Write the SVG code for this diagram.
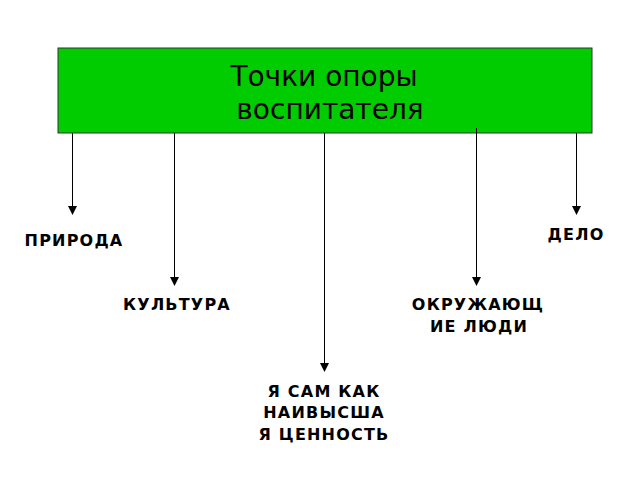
<svg xmlns="http://www.w3.org/2000/svg" width="640" height="480" viewBox="0 0 640 480">
<style>
.lbl{font-family:"DejaVu Sans",Verdana,sans-serif;font-weight:bold;font-size:16px;letter-spacing:1.2px;fill:#000;text-anchor:middle}
.ttl{font-family:"DejaVu Sans",Verdana,sans-serif;font-size:28px;fill:#000;text-anchor:middle}
.ln{stroke:#000;stroke-width:1;fill:none;marker-end:url(#ah)}
</style>
<defs>
<marker id="ah" markerWidth="9" markerHeight="9" refX="8" refY="4.5" orient="auto" markerUnits="userSpaceOnUse">
<path d="M0,0 L9,4.5 L0,9 Z" fill="#000"/>
</marker>
</defs>
<rect width="640" height="480" fill="#fff"/>
<g id="title">
<rect x="58" y="48" width="534" height="85" fill="#00cc00" stroke="#333" stroke-width="1"/>
<text class="ttl" x="324" y="86">Точки опоры</text>
<text class="ttl" x="330" y="119">воспитателя</text>
</g>
<g id="connectors">
<line class="ln" x1="72.5" y1="133" x2="72.5" y2="214"/>
<line class="ln" x1="174.5" y1="133" x2="174.5" y2="285"/>
<line class="ln" x1="324.5" y1="133" x2="324.5" y2="371"/>
<line class="ln" x1="476.5" y1="128" x2="476.5" y2="285"/>
<line class="ln" x1="576.5" y1="133" x2="576.5" y2="214"/>
</g>
<g id="priroda"><text class="lbl" x="74" y="246">ПРИРОДА</text></g>
<g id="delo"><text class="lbl" x="576" y="240">ДЕЛО</text></g>
<g id="kultura"><text class="lbl" x="177" y="310">КУЛЬТУРА</text></g>
<g id="okruzh"><text class="lbl" x="478" y="310">ОКРУЖАЮЩ</text><text class="lbl" x="479" y="332">ИЕ ЛЮДИ</text></g>
<g id="ya"><text class="lbl" x="324" y="397">Я САМ КАК</text><text class="lbl" x="324" y="418">НАИВЫСША</text><text class="lbl" x="324" y="440">Я ЦЕННОСТЬ</text></g>
</svg>
